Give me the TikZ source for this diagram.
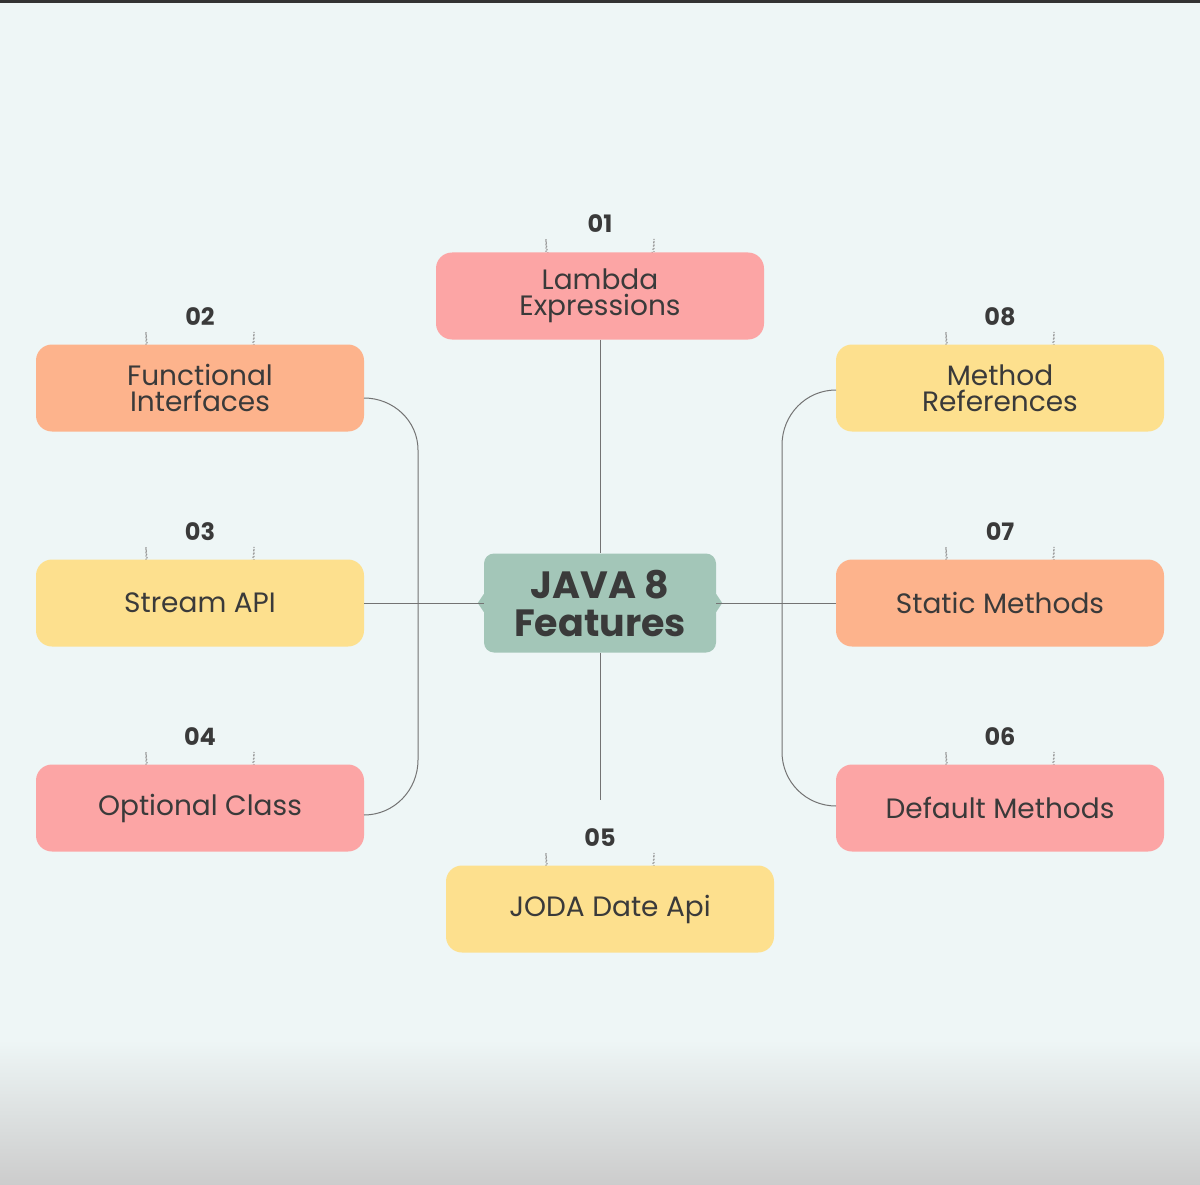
\documentclass[tikz,border=0pt]{standalone}
\usepackage{fontspec}
\setmainfont{Poppins}
\begin{document}
\begin{tikzpicture}[x=1pt,y=-1pt,
 box/.style={rounded corners=16pt,minimum width=328pt,minimum height=87pt,inner sep=0pt,align=center,font=\fontsize{28}{32}\selectfont,text=txt},
 num/.style={font=\bfseries\fontsize{24}{26}\selectfont,text=txt},
 arcd/.style={draw=gray!80,dotted,line width=1.3pt},
 ln/.style={draw=gray!90!black,line width=1pt}]
\definecolor{bg}{HTML}{EEF6F6}
\definecolor{pinkc}{HTML}{FCA5A5}
\definecolor{orangec}{HTML}{FDB38C}
\definecolor{yellowc}{HTML}{FDE08E}
\definecolor{greenc}{HTML}{A3C6B8}
\definecolor{txt}{HTML}{3A3A3A}
\useasboundingbox (0,0) rectangle (1200,1185);
\fill[bg] (0,0) rectangle (1200,1185);
\shade[top color=bg,bottom color=gray!40] (0,1040) rectangle (1200,1185);
\fill[black!80] (0,0) rectangle (1200,3);
% arcs
\foreach \cx/\ty/\n/\nm in {600/252/01/a,200/345/02/b,200/560/03/c,200/765/04/d,600/866/05/e,1000/765/06/f,1000/560/07/g,1000/345/08/h}{
 \draw[arcd] (\cx-54,\ty) -- (\cx-54,\ty-13) arc[start angle=180,end angle=0,radius=54] -- (\cx+54,\ty);
 \node[num] (n\nm) at (\cx,\ty-28) {\n};
}
\node[box,fill=pinkc] (l1) at (600,296) {Lambda\\[-6pt]Expressions};
\node[box,fill=orangec] (l2) at (200,388) {Functional\\[-6pt]Interfaces};
\node[box,fill=yellowc] (l3) at (200,603) {Stream API};
\node[box,fill=pinkc] (l4) at (200,808) {Optional Class};
\node[box,fill=yellowc] (l5) at (610,909) {JODA Date Api};
\node[box,fill=pinkc] (l6) at (1000,808) {Default Methods};
\node[box,fill=orangec] (l7) at (1000,603) {Static Methods};
\node[box,fill=yellowc] (l8) at (1000,388) {Method\\[-6pt]References};
\node[fill=greenc,rounded corners=10pt,minimum width=232pt,minimum height=99pt,align=center,font=\bfseries\fontsize{38}{42}\selectfont,text=txt] (c) at (600,603) {JAVA 8\\[-4pt]Features};
\fill[greenc] (c.west) ++(0,-9) -- ++(-6,9) -- ++(6,9) -- cycle;
\fill[greenc] (c.east) ++(0,-9) -- ++(6,9) -- ++(-6,9) -- cycle;
\coordinate (e5) at (600,800);
\draw[ln] (l1.south) -- (c.north);
\draw[ln] (c.south) -- (e5);
\draw[ln] (l3.east) -- (c.west);
\draw[ln] (c.east) -- (l7.west);
\draw[ln] (364,398) to[out=0,in=90] (418,450) -- (418,760) to[out=-90,in=0] (364,815);
\draw[ln] (836,390) to[out=180,in=90] (782,445) -- (782,752) to[out=-90,in=180] (836,806);
\end{tikzpicture}
\end{document}
